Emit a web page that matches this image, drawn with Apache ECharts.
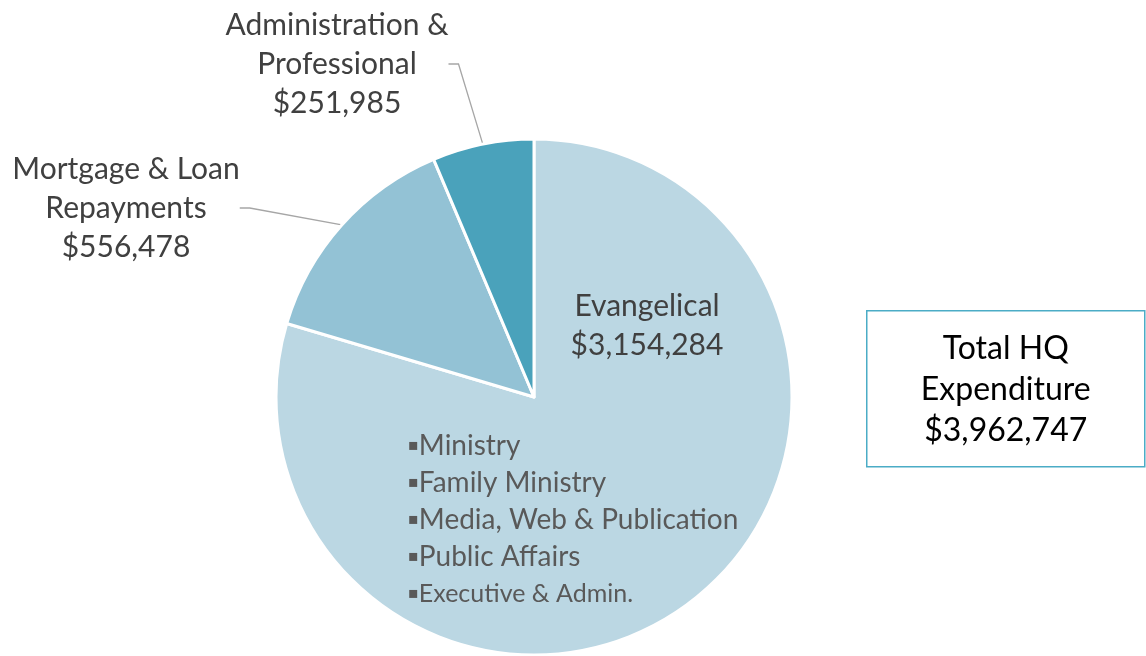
<!DOCTYPE html>
<html>
<head>
<meta charset="utf-8">
<script src="https://cdn.jsdelivr.net/npm/echarts@6/dist/echarts.min.js"></script>
<style>
html, body { margin: 0; padding: 0; background: #fff; }
#main { width: 1146px; height: 656px; }
</style>
</head>
<body>
<div id="main"></div>
<script>
// 数据
var categories = ['Evangelical', 'Mortgage & Loan\nRepayments', 'Administration &\nProfessional'];
var values = [3154284, 556478, 251985];
var evangelicalItems = ['Ministry', 'Family Ministry', 'Media, Web & Publication', 'Public Affairs', 'Executive & Admin.'];
var totalTitle = ['Total HQ', 'Expenditure'];

var sliceColors = ['#BBD7E3', '#93C2D5', '#4AA2BB'];
var fontFamily = 'Lato, "Open Sans", sans-serif';

function money(v) {
    return '$' + v.toLocaleString('en-US');
}

var total = values.reduce(function (a, b) { return a + b; }, 0);

var pieData = categories.map(function (name, i) {
    var item = {
        name: name,
        value: values[i],
        itemStyle: { color: sliceColors[i] }
    };
    if (i === 0) {
        item.label = { position: 'inside' };
        item.labelLine = { show: false };
    }
    return item;
});

// 标签位置
var labelSpots = { 0: [647, 326], 1: [126, 208], 2: [337, 64] };

var bulletText = evangelicalItems.map(function (s, i) {
    var style = i === evangelicalItems.length - 1 ? 's' : 't';
    return '{b|\u25AA}{' + style + '|' + s + '}';
}).join('\n');

var myChart = echarts.init(document.getElementById('main'));
var option = {
    animation: false,
    series: [{
        type: 'pie',
        center: [534, 397],
        radius: 258,
        startAngle: 90,
        clockwise: true,
        avoidLabelOverlap: false,
        itemStyle: { borderColor: '#fff', borderWidth: 3 },
        emphasis: { disabled: true },
        label: {
            show: true,
            position: 'outside',
            formatter: function (p) { return p.name + '\n' + money(p.value); },
            fontFamily: fontFamily,
            fontSize: 30,
            lineHeight: 39,
            color: '#404040',
            align: 'center'
        },
        labelLine: {
            show: true,
            length: 20,
            length2: 10,
            lineStyle: { color: '#A6A6A6', width: 1.3 }
        },
        labelLayout: function (p) {
            var s = labelSpots[p.dataIndex];
            return { x: s[0], y: s[1], align: 'center', verticalAlign: 'middle' };
        },
        data: pieData
    }],
    graphic: [{
        type: 'text',
        left: 408,
        top: 432,
        z: 100,
        silent: true,
        style: {
            text: bulletText,
            fill: '#595959',
            rich: {
                b: { fontFamily: '"DejaVu Sans"', fontSize: 16, lineHeight: 37, fill: '#595959' },
                t: { fontFamily: fontFamily, fontSize: 28, lineHeight: 37, fill: '#595959' },
                s: { fontFamily: fontFamily, fontSize: 25, lineHeight: 37, fill: '#595959' }
            }
        }
    }, {
        type: 'group',
        left: 866,
        top: 310,
        z: 100,
        children: [{
            type: 'rect',
            shape: { x: 0, y: 0, width: 278, height: 156 },
            style: { fill: '#fff', stroke: '#4BACC6', lineWidth: 1.5 }
        }, {
            type: 'text',
            x: 139,
            y: 79,
            style: {
                text: totalTitle.join('\n') + '\n' + money(total),
                fontFamily: fontFamily,
                fontSize: 32,
                lineHeight: 41,
                fill: '#000',
                align: 'center',
                verticalAlign: 'middle'
            }
        }]
    }]
};
myChart.setOption(option);
</script>
</body>
</html>
